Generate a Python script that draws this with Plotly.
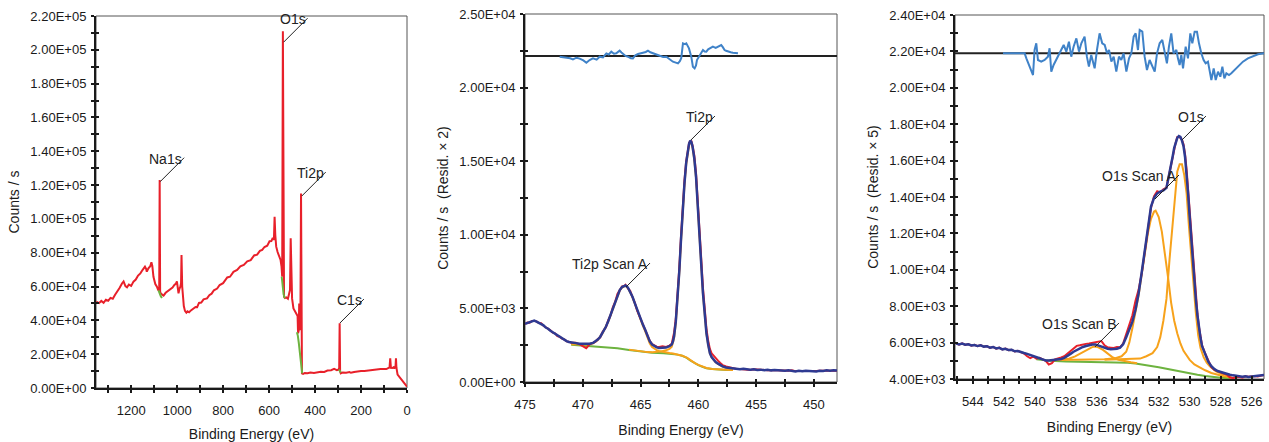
import plotly.graph_objects as go

FONT = "Liberation Sans, Arial, Helvetica, sans-serif"
RED = "#E8202A"
GREEN = "#6DB33F"
ORANGE = "#F7A21B"
NAVY = "#2E3A92"
RESID = "#3F82C8"
INK = "#1a1a1a"
W, H = 1269, 442

# ---------------------------------------------------------------- survey
survey_ev = [
    1352, 1340, 1330, 1320, 1310, 1300, 1290, 1280, 1270, 1260,
    1250, 1240, 1233, 1225, 1218, 1210, 1200, 1190, 1180, 1170,
    1160, 1150, 1140, 1135, 1132, 1125, 1117, 1112, 1108, 1103,
    1095, 1088, 1082, 1078, 1076, 1074, 1071, 1065, 1059, 1050,
    1040, 1030, 1020, 1012, 1006, 1001, 997, 994, 990, 986,
    983, 981, 978, 976, 971, 966, 960, 955, 948, 940,
    930, 920, 913, 905, 895, 885, 870, 860, 850, 840,
    826, 815, 800, 782, 770, 755, 739, 725, 710, 695,
    680, 665, 652, 640, 630, 620, 608, 598, 590, 584,
    579, 576, 573, 569, 563, 557, 550, 546, 543, 540,
    537, 535, 531, 525, 518, 512, 509, 506, 503, 500,
    494, 489, 484, 479, 476, 474, 471, 469, 467, 464,
    461, 459, 457, 452, 445, 433, 420, 405, 390, 375,
    360, 346, 330, 317, 305, 298, 295, 293, 291, 288,
    280, 265, 250, 244, 230, 215, 200, 185, 171, 160,
    145, 130, 115, 99, 90, 82, 76, 73, 70, 64,
    58, 55, 50, 48, 46, 41, 35, 30, 26, 20,
    12, 6, 0]
survey_cps = [
    51000, 50200, 51500, 50400, 52200, 51600, 53300, 52800, 55200, 57100,
    59300, 61800, 63000, 60300, 59600, 61200, 60400, 62900, 64100, 66500,
    67800, 69900, 71800, 70500, 68800, 70800, 72000, 74300, 72200, 65800,
    61500, 59900, 57800, 58500, 123000, 57000, 55800, 55200, 54600, 56300,
    57200, 58200, 59400, 60900, 61600, 63000, 59000, 56000, 58700, 59900,
    62000, 78700, 60000, 54000, 48500, 45600, 44600, 45400, 44800, 45900,
    47000, 47900, 47800, 50300, 50500, 52400, 53000, 54900, 55800, 57800,
    58800, 60900, 62000, 65400, 65800, 68700, 69800, 72000, 72800, 74900,
    75600, 78400, 78900, 81100, 81700, 83400, 84200, 86800, 86900, 88800,
    87600, 101300, 90500, 83600, 80400, 77700, 75700, 72000, 65800, 211000,
    62000, 54000, 53200, 53600, 52800, 55400, 58000, 88500, 69000, 53000,
    47100, 45800, 45100, 43500, 42600, 32300, 34000, 50000, 36000, 34200,
    115000, 60000, 8700, 8400, 8800, 8700, 9200, 8900, 9300, 9600,
    9500, 10300, 10500, 11300, 10600, 10900, 11800, 38300, 9900, 8700,
    9200, 9000, 9400, 9000, 9500, 9900, 10100, 10000, 10300, 10600,
    10500, 10900, 11200, 11300, 11200, 11800, 12100, 17500, 11900, 11800,
    12300, 11500, 12600, 17500, 12000, 7900, 6800, 5600, 4900, 4200,
    3000, 1900, 800]
survey_bg_ev = [1081, 1076, 1071, 1066, None, 545, 541, 537, 533, 530, None,
                479, 475, 471, 467, 463, 459, 456, None, 296, 292, 288]
survey_bg_cps = [57800, 55800, 54300, 53200, None, 65800, 60000, 55500, 53600, 53200, None,
                 33000, 31000, 27000, 21000, 15000, 10000, 8600, None, 11000, 10300, 9200]
survey_labels = ["Na1s", "O1s", "Ti2p", "C1s"]
survey_label_ev = [1074, 537, 458, 292]
survey_label_cps = [122000, 204500, 113500, 38400]

# ---------------------------------------------------------------- Ti 2p
ti_ev = [
    475.0, 474.8, 474.6, 474.4, 474.2, 474.0, 473.8, 473.6, 473.4, 473.2,
    473.0, 472.8, 472.6, 472.4, 472.2, 472.0, 471.8, 471.6, 471.4, 471.2,
    471.0, 470.6, 470.3, 470.0, 469.7, 469.4, 469.1, 468.9, 468.7, 468.5,
    468.3, 468.0, 467.8, 467.6, 467.4, 467.2, 467.0, 466.8, 466.6, 466.4,
    466.3, 466.1, 465.9, 465.7, 465.5, 465.3, 465.1, 464.8, 464.6, 464.4,
    464.2, 464.0, 463.8, 463.6, 463.4, 463.1, 462.8, 462.5, 462.3, 462.2,
    462.1, 461.95, 461.8, 461.65, 461.5, 461.35, 461.2, 461.05, 460.9, 460.8,
    460.7, 460.6, 460.5, 460.35, 460.2, 460.05, 459.9, 459.75, 459.6, 459.45,
    459.3, 459.15, 459.0, 458.85, 458.7, 458.5, 458.3, 458.1, 457.9, 457.6,
    457.3, 457.0, 456.7, 456.4, 456.1, 455.8, 455.5, 455.2, 454.9, 454.6,
    454.3, 454.0, 453.7, 453.4, 453.1, 452.8, 452.5, 452.2, 451.9, 451.6,
    451.3, 451.0, 450.7, 450.4, 450.1, 449.8, 449.5, 449.2, 448.9, 448.6,
    448.3, 448.0]
ti_envelope = [
    3950, 4010, 4060, 4120, 4170, 4100, 4030, 3960, 3850, 3700,
    3620, 3480, 3380, 3290, 3150, 3060, 2980, 2860, 2780, 2720,
    2680, 2640, 2600, 2590, 2580, 2600, 2660, 2760, 2880, 3060,
    3330, 3750, 4130, 4560, 5020, 5480, 5930, 6250, 6450, 6550,
    6560, 6420, 6150, 5800, 5360, 4910, 4460, 3900, 3550, 3130,
    2760, 2550, 2420, 2350, 2310, 2300, 2340, 2430, 2550, 2750,
    3100, 4100, 5590, 7500, 9660, 11700, 13500, 14900, 15770, 16200,
    16400, 16300, 16000, 15200, 13960, 12200, 10110, 8000, 6040, 4500,
    3330, 2550, 1970, 1700, 1520, 1360, 1250, 1140, 1060, 990,
    950, 910, 890, 870, 900, 850, 840, 870, 820, 840,
    800, 830, 790, 810, 780, 800, 760, 790, 770, 720,
    760, 730, 770, 740, 760, 720, 770, 750, 790, 760,
    800, 780]
ti_data = [
    3930, 4040, 4030, 4150, 4140, 4120, 4000, 3990, 3820, 3730,
    3600, 3510, 3350, 3310, 3120, 3080, 2950, 2890, 2760, 2740,
    2660, 2660, 2570, 2450, 2300, 2560, 2700, 2740, 2920, 3020,
    3380, 3720, 4180, 4520, 5070, 5440, 5980, 6210, 6490, 6520,
    6600, 6380, 6190, 5760, 5400, 4870, 4500, 3860, 3590, 3100,
    2800, 2580, 2460, 2400, 2380, 2420, 2380, 2470, 2600, 2950,
    3350, 4300, 5800, 7700, 9900, 11900, 13700, 15000, 15850, 16250,
    16350, 16350, 16050, 15400, 14200, 12500, 10400, 8400, 6400, 4900,
    3650, 2800, 2250, 1950, 1800, 1650, 1450, 1290, 1150, 1050,
    980, 930, 880, 890, 860, 870, 820, 860, 840, 810,
    820, 800, 810, 790, 800, 770, 780, 760, 790, 740,
    750, 740, 760, 750, 740, 740, 760, 760, 780, 770,
    790, 770]
ti_bg_ev = [471.0, 470.0, 469.0, 468.0, 467.0, 466.0, 465.0, 464.0, 463.0, 462.2, 461.8,
            461.4, 461.0, 460.7, 460.3, 460.0, 459.6, 459.3, 458.8, 458.2, 457.6, 457.0]
ti_bg_cps = [2530, 2480, 2440, 2390, 2300, 2180, 2060, 1990, 1950, 1900, 1860,
             1780, 1640, 1470, 1270, 1150, 1020, 940, 880, 840, 820, 815]
ti_scanA_ev = [471.0, 470.3, 469.7, 469.1, 468.7, 468.3, 468.0, 467.8, 467.6, 467.4,
               467.2, 467.0, 466.8, 466.6, 466.4, 466.3, 466.1, 465.9, 465.7, 465.5,
               465.3, 465.1, 464.8, 464.6, 464.4, 464.2, 464.0, 463.8, 463.6, 463.4,
               463.1, 462.8, 462.5, 462.2, 461.8, 461.4, 461.0, 460.7, 460.3, 460.0,
               459.6, 459.3, 458.8, 458.2, 457.6, 457.0]
ti_scanA_cps = [2560, 2540, 2550, 2630, 2850, 3300, 3720, 4100, 4530, 4990,
                5450, 5900, 6220, 6420, 6520, 6540, 6400, 6130, 5780, 5330,
                4870, 4410, 3830, 3450, 3010, 2620, 2380, 2240, 2160, 2110,
                2050, 2010, 1970, 1930, 1875, 1790, 1650, 1480, 1280, 1160,
                1030, 950, 890, 845, 825, 818]
ti_main_ev = [466.0, 465.0, 464.4, 464.0, 463.6, 463.2, 462.8, 462.5, 462.3, 462.2,
              462.1, 461.95, 461.8, 461.65, 461.5, 461.35, 461.2, 461.05, 460.9, 460.8,
              460.7, 460.6, 460.5, 460.35, 460.2, 460.05, 459.9, 459.75, 459.6, 459.45,
              459.3, 459.15, 459.0, 458.85, 458.7, 458.5, 458.3, 458.1, 457.9, 457.6,
              457.3, 457.0]
ti_main_cps = [2200, 2080, 2030, 2020, 2040, 2080, 2150, 2250, 2400, 2620,
               2980, 3980, 5470, 7390, 9550, 11590, 13390, 14790, 15670, 16110,
               16320, 16220, 15920, 15120, 13890, 12140, 10050, 7950, 5990, 4450,
               3290, 2520, 1950, 1680, 1500, 1340, 1230, 1120, 1040, 970,
               935, 900]
ti_resid_zero = 22150
ti_resid_ev = [472.0, 471.7, 471.42, 471.1, 470.85, 470.55, 470.27, 469.95, 469.69, 469.41,
               469.12, 468.8, 468.54, 468.25, 467.96, 467.75, 467.53, 467.3, 467.10, 466.95,
               466.81, 466.65, 466.52, 466.3, 466.09, 465.85, 465.66, 465.45, 465.22, 465.0,
               464.79, 464.55, 464.36, 464.15, 463.93, 463.65, 463.35, 463.05, 462.77, 462.5,
               462.20, 461.95, 461.76, 461.6, 461.48, 461.33, 461.15, 461.04, 460.92, 460.81,
               460.61, 460.47, 460.32, 460.2, 460.12, 459.89, 459.75, 459.60, 459.45, 459.31,
               459.15, 459.03, 458.9, 458.74, 458.5, 458.30, 458.15, 458.02, 457.88, 457.73,
               457.6, 457.44, 457.2, 457.01, 456.8, 456.57]
ti_resid_cps = [22100, 22080, 22055, 21990, 21919, 22030, 21970, 21850, 21693, 21874,
                21987, 21900, 22100, 22050, 22326, 22250, 22439, 22300, 22326, 22420,
                22507, 22380, 22281, 22150, 22100, 22000, 21987, 22200, 22281, 22350,
                22371, 22420, 22507, 22400, 22326, 22250, 22145, 22080, 22100, 21950,
                21760, 21700, 21647, 21800, 22000, 23005, 22950, 23005, 22850, 22665,
                22100, 21421, 21308, 21500, 21874, 22200, 22400, 22552, 22450, 22439,
                22600, 22665, 22700, 22779, 22700, 22779, 22850, 22891, 22750, 22552,
                22500, 22439, 22400, 22371, 22350, 22326]
ti_labels = ["Ti2p", "Ti2p Scan A"]
ti_label_ev = [460.64, 466.26]
ti_label_cps = [16440, 6450]

# ---------------------------------------------------------------- O 1s
o_ev = [
    545.1, 544.9, 544.7, 544.5, 544.3, 544.1, 543.9, 543.7, 543.5, 543.3,
    543.1, 542.9, 542.7, 542.5, 542.3, 542.1, 541.9, 541.7, 541.5, 541.3,
    541.1, 540.9, 540.7, 540.5, 540.3, 540.1, 539.9, 539.7, 539.5, 539.3,
    539.1, 538.9, 538.7, 538.5, 538.3, 538.1, 537.9, 537.7, 537.5, 537.3,
    537.1, 536.9, 536.7, 536.5, 536.3, 536.1, 535.9, 535.7, 535.5, 535.3,
    535.1, 534.9, 534.7, 534.5, 534.3, 534.1, 533.9, 533.7, 533.5, 533.3,
    533.1, 532.9, 532.7, 532.5, 532.3, 532.1, 531.9, 531.7, 531.5, 531.4,
    531.3, 531.2, 531.1, 531.0, 530.9, 530.8, 530.7, 530.6, 530.5, 530.4,
    530.3, 530.2, 530.1, 530.0, 529.9, 529.8, 529.7, 529.6, 529.5, 529.4,
    529.3, 529.2, 529.0, 528.8, 528.6, 528.4, 528.2, 528.0, 527.8, 527.6,
    527.4, 527.2, 527.0, 526.8, 526.6, 526.4, 526.2, 526.0, 525.8, 525.6,
    525.4, 525.2]
o_envelope = [
    5960, 5900, 5950, 5880, 5910, 5840, 5870, 5810, 5850, 5780,
    5800, 5720, 5760, 5680, 5710, 5630, 5660, 5590, 5600, 5520,
    5540, 5470, 5430, 5380, 5330, 5260, 5190, 5140, 5080, 5020,
    5020, 5040, 5060, 5070, 5100, 5160, 5250, 5380, 5500, 5600,
    5690, 5760, 5810, 5870, 5900, 5900, 5840, 5770, 5700, 5660,
    5640, 5630, 5660, 5720, 5900, 6300, 6750, 7150, 7800, 8700,
    9850, 11000, 12370, 13470, 13950, 14200, 14300, 14360, 14500, 14900,
    15300, 15800, 16220, 16700, 17050, 17250, 17350, 17300, 17100, 16800,
    16200, 15300, 14150, 12920, 11700, 10540, 9400, 8340, 7500, 6800,
    6250, 5800, 5350, 4950, 4700, 4540, 4440, 4380, 4310, 4270,
    4230, 4200, 4170, 4160, 4130, 4150, 4110, 4140, 4160, 4150,
    4190, 4220]
o_data = [
    5970, 5890, 5960, 5870, 5920, 5830, 5880, 5800, 5860, 5770,
    5810, 5710, 5770, 5670, 5720, 5620, 5670, 5580, 5610, 5510,
    5550, 5460, 5400, 5250, 5150, 5230, 5120, 5160, 5060, 5000,
    4800, 4870, 5080, 5120, 5180, 5250, 5400, 5560, 5700, 5820,
    5850, 5900, 5930, 5950, 5980, 6000, 6020, 6080, 5850, 5740,
    5720, 5700, 5760, 5740, 5950, 6450, 6900, 7500, 8300, 8900,
    9800, 11100, 12300, 13400, 14050, 14320, 14250, 14420, 14520, 14950,
    15250, 15850, 16300, 16750, 17000, 17300, 17300, 17250, 17150, 16900,
    16350, 15500, 14300, 13150, 11900, 10800, 9650, 8600, 7600, 6850,
    6300, 5850, 5400, 4980, 4650, 4500, 4420, 4350, 4300, 4250,
    4080, 4050, 4090, 4120, 4070, 4150, 4120, 4140, 4170, 4140,
    4200, 4220]
o_bg_ev = [539.9, 539.0, 538.0, 537.0, 536.0, 535.0, 534.5, 534.0, 533.5, 533.0, 532.5,
           532.0, 531.5, 531.0, 530.5, 530.0, 529.5, 529.0, 528.5, 528.0, 527.4]
o_bg_cps = [5080, 5000, 4960, 4950, 4950, 4940, 4920, 4890, 4850, 4790, 4720,
            4640, 4560, 4470, 4380, 4300, 4230, 4160, 4100, 4070, 4040]
o_scanB_ev = [538.6, 538.2, 537.8, 537.4, 537.0, 536.6, 536.3, 536.1, 535.9, 535.6,
              535.3, 535.0, 534.6, 534.2, 533.8, 533.4]
o_scanB_cps = [5030, 5050, 5110, 5240, 5430, 5630, 5750, 5790, 5740, 5600,
               5400, 5200, 5060, 4980, 4920, 4870]
o_scanA_ev = [538.4, 537.5, 536.5, 535.5, 534.8, 534.4, 534.1, 533.9, 533.7, 533.5,
              533.3, 533.1, 532.9, 532.7, 532.5, 532.3, 532.2, 532.0, 531.8, 531.6,
              531.4, 531.2, 531.0, 530.8, 530.6, 530.4, 530.2, 530.0, 529.7, 529.4,
              529.0, 528.6, 528.2, 527.8, 527.4]
o_scanA_cps = [5040, 5050, 5070, 5090, 5140, 5250, 5500, 6000, 6800, 7700,
               8600, 9750, 10900, 12000, 12800, 13200, 13250, 12900, 12100, 10950,
               9600, 8200, 7200, 6500, 5950, 5550, 5300, 5050, 4800, 4650,
               4480, 4330, 4220, 4150, 4100]
o_main_ev = [535.5, 534.5, 533.8, 533.2, 532.8, 532.4, 532.1, 531.9, 531.7, 531.5,
             531.3, 531.1, 530.95, 530.8, 530.65, 530.5, 530.35, 530.2, 530.05, 529.9,
             529.75, 529.6, 529.45, 529.3, 529.1, 528.9, 528.7, 528.3, 527.9, 527.6,
             527.3]
o_main_cps = [5060, 5070, 5080, 5120, 5250, 5420, 5750, 6300, 7200, 8400,
              10600, 12600, 14300, 15400, 15800, 15800, 15200, 14200, 12400, 10700,
              9100, 7600, 6400, 5700, 5200, 4900, 4700, 4420, 4270, 4200,
              4130]
o_resid_zero = 21894
o_resid_ev = [542.06, 540.66, 540.55, 540.34, 540.12, 540.02, 539.91, 539.80, 539.59, 539.37,
              539.16, 539.05, 538.94, 538.79, 538.62, 538.44, 538.29, 538.14, 537.97, 537.80,
              537.65, 537.50, 537.32, 537.15, 537.00, 536.79, 536.64, 536.51, 536.36, 536.14,
              535.99, 535.82, 535.65, 535.49, 535.34, 535.21, 535.06, 534.91, 534.74, 534.57,
              534.42, 534.27, 534.09, 533.92, 533.77, 533.62, 533.49, 533.34, 533.23, 533.06,
              532.91, 532.76, 532.59, 532.42, 532.26, 532.11, 531.94, 531.77, 531.62, 531.47,
              531.34, 531.19, 531.04, 530.86, 530.76, 530.65, 530.54, 530.43, 530.26, 530.11,
              529.96, 529.83, 529.68, 529.53, 529.40, 529.25, 529.10, 528.97, 528.82, 528.71,
              528.60, 528.45, 528.32, 528.17, 528.02, 527.89, 527.76, 527.63, 527.46, 527.31,
              527.10, 526.88, 526.56, 526.24, 525.91, 525.59, 525.20]
o_resid_cps = [21894, 21894, 21619, 21161, 20703, 22077, 22444, 21528, 21436, 21528,
               21711, 22169, 20886, 21253, 21528, 21802, 22077, 22352, 21986, 22535,
               21711, 22260, 22718, 21986, 22444, 22810, 21711, 21161, 21802, 21070,
               22077, 22993, 22444, 22352, 21894, 22077, 21436, 21711, 20886, 21711,
               21528, 21894, 20886, 21619, 21894, 22810, 22993, 22077, 23176, 23085,
               21711, 20978, 21528, 21161, 20886, 21894, 22444, 22627, 21894, 21344,
               22260, 22993, 21894, 22077, 21619, 21253, 21802, 21070, 22260, 21619,
               22993, 22444, 23085, 23085, 22444, 21894, 21528, 21344, 21436, 20886,
               20428, 21070, 20428, 20886, 20611, 21161, 20520, 20795, 20703, 20795,
               20978, 21161, 21436, 21619, 21711, 21839, 21894]
o_labels = ["O1s", "O1s Scan A", "O1s Scan B"]
o_label_ev = [530.5, 532.24, 536.12]
o_label_cps = [17130, 13890, 5760]

# ---------------------------------------------------------------- axes / ticks
p1_xrange = [1353, 0]
p1_yrange = [0, 220000]
p1_xticks = [1200, 1000, 800, 600, 400, 200, 0]
p1_xticktext = ["1200", "1000", "800", "600", "400", "200", "0"]
p1_xminor = [1300, 1100, 900, 700, 500, 300, 100]
p1_yticks = [0, 20000, 40000, 60000, 80000, 100000, 120000, 140000, 160000, 180000, 200000, 220000]
p1_yticktext = ["0.00E+00", "2.00E+04", "4.00E+04", "6.00E+04", "8.00E+04", "1.00E+05",
                "1.20E+05", "1.40E+05", "1.60E+05", "1.80E+05", "2.00E+05", "2.20E+05"]
p1_yminor = [10000, 30000, 50000, 70000, 90000, 110000, 130000, 150000, 170000, 190000, 210000]

p2_xrange = [475, 448]
p2_yrange = [0, 25000]
p2_xticks = [475, 470, 465, 460, 455, 450]
p2_xticktext = ["475", "470", "465", "460", "455", "450"]
p2_xminor = [472.5, 467.5, 462.5, 457.5, 452.5]
p2_yticks = [0, 5000, 10000, 15000, 20000, 25000]
p2_yticktext = ["0.00E+00", "5.00E+03", "1.00E+04", "1.50E+04", "2.00E+04", "2.50E+04"]
p2_yminor = [2500, 7500, 12500, 17500, 22500]

p3_xrange = [545.16, 525.2]
p3_yrange = [4000, 24000]
p3_xticks = [544, 542, 540, 538, 536, 534, 532, 530, 528, 526]
p3_xticktext = ["544", "542", "540", "538", "536", "534", "532", "530", "528", "526"]
p3_xminor = [545, 543, 541, 539, 537, 535, 533, 531, 529, 527]
p3_yticks = [4000, 6000, 8000, 10000, 12000, 14000, 16000, 18000, 20000, 22000, 24000]
p3_yticktext = ["4.00E+03", "6.00E+03", "8.00E+03", "1.00E+04", "1.20E+04", "1.40E+04",
                "1.60E+04", "1.80E+04", "2.00E+04", "2.20E+04", "2.40E+04"]
p3_yminor = [5000, 7000, 9000, 11000, 13000, 15000, 17000, 19000, 21000, 23000]

x_title = "Binding Energy (eV)"
y_titles = ["Counts / s", "Counts / s\u00a0 (Resid. \u00d7 2)", "Counts / s\u00a0 (Resid. \u00d7 5)"]

# plot-area boxes in pixels: left, right, top, bottom
boxes = [(96, 407, 16, 388), (525, 837, 14, 382), (955, 1264, 15, 379)]

fig = go.Figure()


def line(x, y, color, width, ax, name):
    fig.add_trace(go.Scatter(x=x, y=y, mode="lines", name=name, showlegend=False,
                             line=dict(color=color, width=width), hoverinfo="skip",
                             xaxis=ax[0], yaxis=ax[1], connectgaps=False))


# panel 1
line(survey_ev, survey_cps, RED, 2, ("x", "y"), "survey")
line(survey_bg_ev, survey_bg_cps, GREEN, 2, ("x", "y"), "background")

# panel 2
line(p2_xrange, [ti_resid_zero, ti_resid_zero], "#222222", 2, ("x2", "y2"), "zero")
line(ti_resid_ev, ti_resid_cps, RESID, 2, ("x2", "y2"), "residual")
line(ti_bg_ev, ti_bg_cps, GREEN, 2, ("x2", "y2"), "background")
line(ti_scanA_ev, ti_scanA_cps, ORANGE, 2, ("x2", "y2"), "Ti2p Scan A")
line(ti_main_ev, ti_main_cps, ORANGE, 2, ("x2", "y2"), "Ti2p")
line(ti_ev, ti_data, RED, 2, ("x2", "y2"), "data")
line(ti_ev, ti_envelope, NAVY, 2.5, ("x2", "y2"), "envelope")

# panel 3
line(p3_xrange, [o_resid_zero, o_resid_zero], "#222222", 2, ("x3", "y3"), "zero")
line(o_resid_ev, o_resid_cps, RESID, 2, ("x3", "y3"), "residual")
line(o_bg_ev, o_bg_cps, GREEN, 2, ("x3", "y3"), "background")
line(o_scanB_ev, o_scanB_cps, ORANGE, 2, ("x3", "y3"), "O1s Scan B")
line(o_scanA_ev, o_scanA_cps, ORANGE, 2, ("x3", "y3"), "O1s Scan A")
line(o_main_ev, o_main_cps, ORANGE, 2, ("x3", "y3"), "O1s")
line(o_ev, o_data, RED, 2, ("x3", "y3"), "data")
line(o_ev, o_envelope, NAVY, 2.5, ("x3", "y3"), "envelope")

panels = [
    (p1_xrange, p1_yrange, p1_xticks, p1_xticktext, p1_xminor, p1_yticks, p1_yticktext, p1_yminor),
    (p2_xrange, p2_yrange, p2_xticks, p2_xticktext, p2_xminor, p2_yticks, p2_yticktext, p2_yminor),
    (p3_xrange, p3_yrange, p3_xticks, p3_xticktext, p3_xminor, p3_yticks, p3_yticktext, p3_yminor),
]

tickfont = dict(family=FONT, size=13, color=INK)
titlefont = dict(family=FONT, size=14, color=INK)
layout_axes = {}
shapes = []
for i, (xr, yr, xt, xtt, xm, yt, ytt, ym) in enumerate(panels):
    n = i + 1
    sfx = "" if n == 1 else str(n)
    ov = str(n + 3)
    l, r, t, b = boxes[i]
    xdom = [l / W, r / W]
    ydom = [1 - b / H, 1 - t / H]
    tick = dict(ticklen=3, tickwidth=2, tickcolor=INK)
    layout_axes["xaxis" + sfx] = dict(
        domain=xdom, anchor="y" + sfx, range=xr, tickmode="array", tickvals=xt, ticktext=xtt,
        ticks="outside", **tick, minor=dict(tickvals=xm, ticks="outside", **tick, showgrid=False),
        showline=True, linewidth=2, linecolor=INK, showgrid=False, zeroline=False,
        tickfont=tickfont, ticklabelstandoff=6, automargin=False,
        title=dict(text=x_title, font=titlefont, standoff=15))
    layout_axes["yaxis" + sfx] = dict(
        domain=ydom, anchor="x" + sfx, range=yr, tickmode="array", tickvals=yt, ticktext=ytt,
        ticks="outside", **tick, minor=dict(tickvals=ym, ticks="outside", **tick, showgrid=False),
        showline=True, linewidth=2, linecolor=INK, showgrid=False, zeroline=False,
        tickfont=tickfont, ticklabelstandoff=2, automargin=False,
        title=dict(text=y_titles[i], font=titlefont, standoff=7))
    # overlay axes that add the inner half of each tick mark
    layout_axes["xaxis" + ov] = dict(
        overlaying="x" + sfx, anchor="y" + sfx, range=xr, tickmode="array", tickvals=xt,
        ticks="inside", **tick, minor=dict(tickvals=xm, ticks="inside", **tick, showgrid=False),
        showticklabels=False, showline=False, showgrid=False, zeroline=False, automargin=False)
    layout_axes["yaxis" + ov] = dict(
        overlaying="y" + sfx, anchor="x" + sfx, range=yr, tickmode="array", tickvals=yt, side="left",
        ticks="inside", **tick, minor=dict(tickvals=ym, ticks="inside", **tick, showgrid=False),
        showticklabels=False, showline=False, showgrid=False, zeroline=False, automargin=False)
    fig.add_trace(go.Scatter(x=[None], y=[None], xaxis="x" + ov, yaxis="y" + sfx,
                             showlegend=False, hoverinfo="skip"))
    fig.add_trace(go.Scatter(x=[None], y=[None], xaxis="x" + sfx, yaxis="y" + ov,
                             showlegend=False, hoverinfo="skip"))
    shapes.append(dict(type="rect", xref="x%s domain" % sfx, yref="y%s domain" % sfx,
                       x0=0, x1=1, y0=0, y1=1, layer="below",
                       line=dict(color="#555555", width=1)))

annotations = []
label_sets = [
    ("x", "y", survey_labels, survey_label_ev, survey_label_cps),
    ("x2", "y2", ti_labels, ti_label_ev, ti_label_cps),
    ("x3", "y3", o_labels, o_label_ev, o_label_cps),
]
for xa, ya, texts, evs, cps in label_sets:
    for txt, ev, c in zip(texts, evs, cps):
        shapes.append(dict(type="line", xref=xa, yref=ya, xsizemode="pixel", ysizemode="pixel",
                           xanchor=ev, yanchor=c, x0=0, y0=0, x1=24, y1=24,
                           line=dict(color="#222222", width=1)))
        annotations.append(dict(xref=xa, yref=ya, x=ev, y=c, text=txt, showarrow=False,
                                xanchor="right", yanchor="middle", xshift=24, yshift=23,
                                font=dict(family=FONT, size=14, color="#222222")))

fig.update_layout(
    width=W, height=H, margin=dict(l=0, r=0, t=0, b=0, autoexpand=False),
    paper_bgcolor="white", plot_bgcolor="white",
    font=dict(family=FONT, size=13, color=INK),
    showlegend=False, shapes=shapes, annotations=annotations,
    **layout_axes)

fig.write_html("out.html")
